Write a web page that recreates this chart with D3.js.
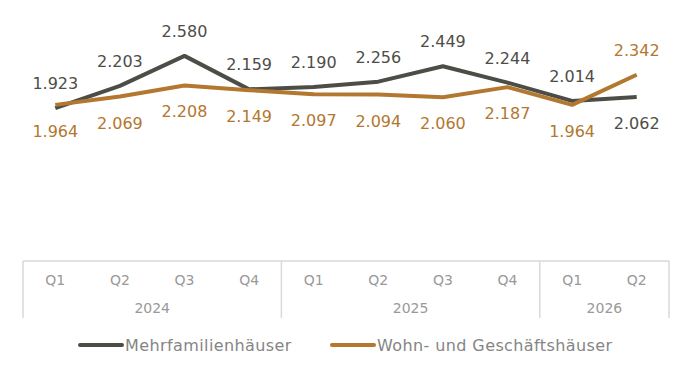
<!DOCTYPE html>
<html>
<head>
<meta charset="utf-8">
<script src="https://cdn.jsdelivr.net/npm/d3@7"></script>
<style>
  body { margin: 0; background: #fff; }
  text { font-family: "DejaVu Sans", sans-serif; }
</style>
</head>
<body>
<svg id="chart"></svg>
<script>
var quarters = ["Q1", "Q2", "Q3", "Q4", "Q1", "Q2", "Q3", "Q4", "Q1", "Q2"];
var years = ["2024", "2024", "2024", "2024", "2025", "2025", "2025", "2025", "2026", "2026"];
var mehrfamilien = [1.923, 2.203, 2.580, 2.159, 2.190, 2.256, 2.449, 2.244, 2.014, 2.062];
var wohnGeschaeft = [1.964, 2.069, 2.208, 2.149, 2.097, 2.094, 2.060, 2.187, 1.964, 2.342];
var seriesNames = ["Mehrfamilienhäuser", "Wohn- und Geschäftshäuser"];

var width = 691,
    height = 375,
    axisY = 261;

var colDark = "#4d4d47",
    colOrange = "#b3772f";

var svg = d3.select('#chart')
    .attr('width', width)
    .attr('height', height);

var x = d3.scaleBand()
    .domain(d3.range(quarters.length))
    .range([23, 669])
    .padding(0);

var y = d3.scaleLinear()
    .domain([0, 3])
    .range([axisY, axisY - 3 * 79.5]);

var cx = function(i) { return x(i) + x.bandwidth() / 2; };

// axis frame
svg.append('line')
    .attr('x1', x.range()[0]).attr('x2', x.range()[1])
    .attr('y1', axisY).attr('y2', axisY)
    .attr('stroke', '#d9d9d9').attr('stroke-width', 1.5);

var yearGroups = [];
years.forEach(function(yr, i) {
  var last = yearGroups[yearGroups.length - 1];
  if (last && last.year === yr) last.end = i;
  else yearGroups.push({ year: yr, start: i, end: i });
});

var edges = [x(0)].concat(yearGroups.map(function(g) { return x(g.end) + x.bandwidth(); }));
svg.selectAll('.sep')
    .data(edges)
    .enter().append('line')
    .attr('x1', function(d) { return d; }).attr('x2', function(d) { return d; })
    .attr('y1', axisY).attr('y2', 318)
    .attr('stroke', '#d9d9d9').attr('stroke-width', 1.5);

svg.selectAll('.qlab')
    .data(quarters)
    .enter().append('text')
    .attr('x', function(d, i) { return cx(i); })
    .attr('y', 285)
    .attr('text-anchor', 'middle')
    .style('font-size', '14px')
    .style('fill', '#999')
    .text(function(d) { return d; });

svg.selectAll('.ylab')
    .data(yearGroups)
    .enter().append('text')
    .attr('x', function(g) { return (x(g.start) + x(g.end) + x.bandwidth()) / 2; })
    .attr('y', 313)
    .attr('text-anchor', 'middle')
    .style('font-size', '14px')
    .style('fill', '#999')
    .text(function(g) { return g.year; });

// lines
var line = d3.line()
    .x(function(d, i) { return cx(i); })
    .y(function(d) { return y(d); });

svg.append('path')
    .datum(mehrfamilien)
    .attr('d', line)
    .attr('fill', 'none')
    .attr('stroke', colDark)
    .attr('stroke-width', 4)
    .attr('stroke-linejoin', 'round');

svg.append('path')
    .datum(wohnGeschaeft)
    .attr('d', line)
    .attr('fill', 'none')
    .attr('stroke', colOrange)
    .attr('stroke-width', 4)
    .attr('stroke-linejoin', 'round');

// value labels: dark above, orange below, swapped on the last point
var fmt = function(v) { return v.toFixed(3); };

function labels(data, color, aboveFn) {
  svg.append('g').selectAll('text')
      .data(data)
      .enter().append('text')
      .attr('x', function(d, i) { return cx(i); })
      .attr('y', function(d, i) { return aboveFn(i) ? y(d) - 19 : y(d) + 32; })
      .attr('text-anchor', 'middle')
      .style('font-size', '16px')
      .style('fill', color)
      .text(function(d) { return fmt(d); });
}
var lastIdx = mehrfamilien.length - 1;
labels(mehrfamilien, colDark, function(i) { return i < lastIdx; });
labels(wohnGeschaeft, colOrange, function(i) { return i === lastIdx; });

// legend
var legend = svg.append('g');
var legendX = [80, 332];
seriesNames.forEach(function(name, i) {
  var c = i === 0 ? colDark : colOrange;
  legend.append('line')
      .attr('x1', legendX[i]).attr('x2', legendX[i] + 42)
      .attr('y1', 345).attr('y2', 345)
      .attr('stroke', c).attr('stroke-width', 4)
      .attr('stroke-linecap', 'round');
  legend.append('text')
      .attr('x', legendX[i] + 45)
      .attr('y', 351)
      .style('font-size', '16px')
      .style('letter-spacing', '0.4px')
      .style('fill', '#858585')
      .text(name);
});
</script>
</body>
</html>
